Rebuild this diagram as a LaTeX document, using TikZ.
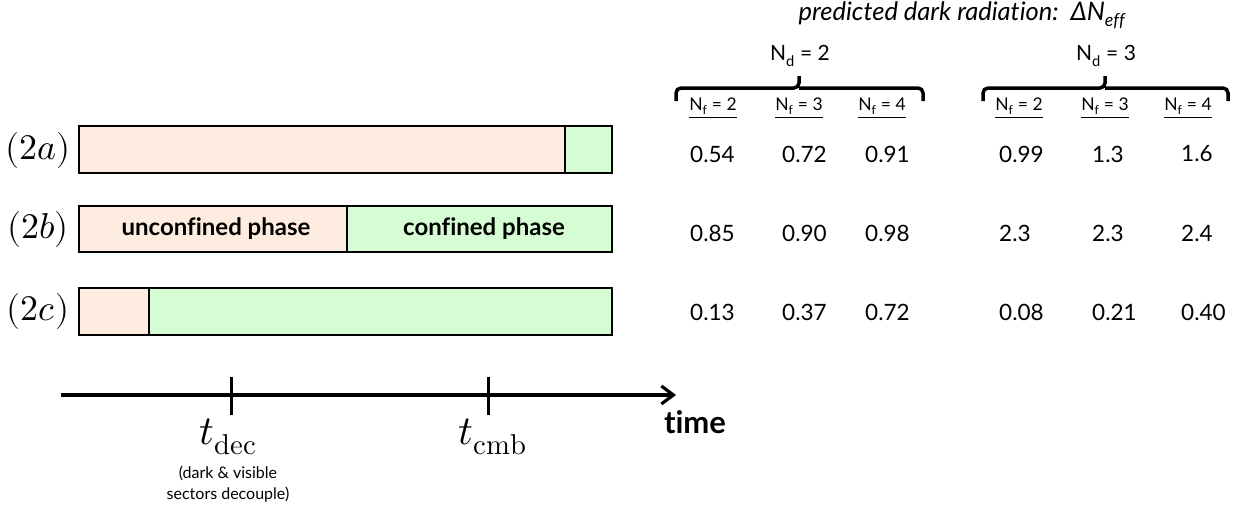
\documentclass[tikz,border=0pt]{standalone}
\usepackage{fontspec}
\usepackage{unicode-math}
\setmainfont{Lato}[Ligatures=NoCommon]
\usetikzlibrary{arrows.meta}
\definecolor{peach}{RGB}{253,236,223}
\definecolor{mint}{RGB}{213,252,211}
\tikzset{
  bar/.style={draw=black, line width=2.8pt},
  rowlab/.style={font=\fontsize{36}{40}\selectfont, inner sep=0pt},
  val/.style={anchor=west, font=\fontsize{22.5}{26}\selectfont, inner sep=0pt},
  nf/.style={font=\fontsize{17.5}{20}\selectfont, inner sep=0pt},
  nd/.style={font=\fontsize{21}{25}\selectfont, inner sep=0pt},
  phase/.style={font=\bfseries\fontsize{24}{28}\selectfont, inner sep=0pt},
  brace/.style={line width=3.5pt, rounded corners=5pt},
  tickmark/.style={line width=3pt},
  axis/.style={line width=3.2pt, -{Straight Barb[length=12pt,width=18pt]}},
  tlab/.style={font=\fontsize{41}{46}\selectfont, inner sep=0pt},
  note/.style={font=\fontsize{16}{19}\selectfont, inner sep=0pt},
}
\begin{document}
\begin{tikzpicture}[x=1pt,y=-1pt]
\useasboundingbox (0,0) rectangle (1242,514);

% header
\node[font=\itshape\fontsize{25.5}{29}\selectfont, inner sep=0pt] (title) at (962,15)
  {predicted dark radiation:\ \ ΔN\textsubscript{eff}};
\node[nd] (nd2) at (800,56) {N\textsubscript{d} = 2};
\node[nd] (nd3) at (1106,56) {N\textsubscript{d} = 3};

% braces
\draw[brace] (676,101) |- (799,88) -- (799,76);
\draw[brace] (799,88) -| (923,101);
\draw[brace] (983,101) |- (1105,88) -- (1105,76);
\draw[brace] (1105,88) -| (1228,101);

% column labels
\node[nf] (f12) at (713,108) {\underline{N\textsubscript{f} = 2}};
\node[nf] (f13) at (799,108) {\underline{N\textsubscript{f} = 3}};
\node[nf] (f14) at (882,108) {\underline{N\textsubscript{f} = 4}};
\node[nf] (f22) at (1019,108) {\underline{N\textsubscript{f} = 2}};
\node[nf] (f23) at (1105,108) {\underline{N\textsubscript{f} = 3}};
\node[nf] (f24) at (1188,108) {\underline{N\textsubscript{f} = 4}};

% bars
\filldraw[bar, fill=peach] (79,126) rectangle (565,173);
\filldraw[bar, fill=mint] (565,126) rectangle (612,173);
\filldraw[bar, fill=peach] (79,206) rectangle (347,252);
\filldraw[bar, fill=mint] (347,206) rectangle (612,252);
\filldraw[bar, fill=peach] (79,288) rectangle (149,335);
\filldraw[bar, fill=mint] (149,288) rectangle (612,335);

\node[phase] (unc) at (216,229) {unconfined phase};
\node[phase] (con) at (484,229) {confined phase};

% row labels
\node[rowlab] (ra) at (38,150) {$(2a)$};
\node[rowlab] (rb) at (38,229) {$(2b)$};
\node[rowlab] (rc) at (38,311) {$(2c)$};

% values
\node[val] (v11) at (690,154) {0.54};
\node[val] (v12) at (782,154) {0.72};
\node[val] (v13) at (865,154) {0.91};
\node[val] (v14) at (999,154) {0.99};
\node[val] (v15) at (1092,154) {1.3};
\node[val] (v16) at (1181,154) {1.6};
\node[val] (v21) at (690,233) {0.85};
\node[val] (v22) at (782,233) {0.90};
\node[val] (v23) at (865,233) {0.98};
\node[val] (v24) at (999,233) {2.3};
\node[val] (v25) at (1092,233) {2.3};
\node[val] (v26) at (1181,233) {2.4};
\node[val] (v31) at (690,312) {0.13};
\node[val] (v32) at (782,312) {0.37};
\node[val] (v33) at (865,312) {0.72};
\node[val] (v34) at (999,312) {0.08};
\node[val] (v35) at (1092,312) {0.21};
\node[val] (v36) at (1181,312) {0.40};

% time axis
\coordinate (axs) at (61,395);
\coordinate (axe) at (676,395);
\draw[axis] (axs) -- (axe);
\coordinate (d1) at (231,377); \coordinate (d2) at (231,415);
\coordinate (c1) at (488,377); \coordinate (c2) at (488,415);
\draw[tickmark] (d1) -- (d2);
\draw[tickmark] (c1) -- (c2);

\node[tlab] (tdec) at (228,437) {$t_{\symup{dec}}$};
\node[tlab] (tcmb) at (493,437) {$t_{\symup{cmb}}$};
\node[font=\bfseries\fontsize{31}{34}\selectfont, inner sep=0pt] (time) at (695,422) {time};
\node[note] (n1) at (228,473) {(dark \& visible};
\node[note] (n2) at (228,495) {sectors decouple)};
\end{tikzpicture}
\end{document}
